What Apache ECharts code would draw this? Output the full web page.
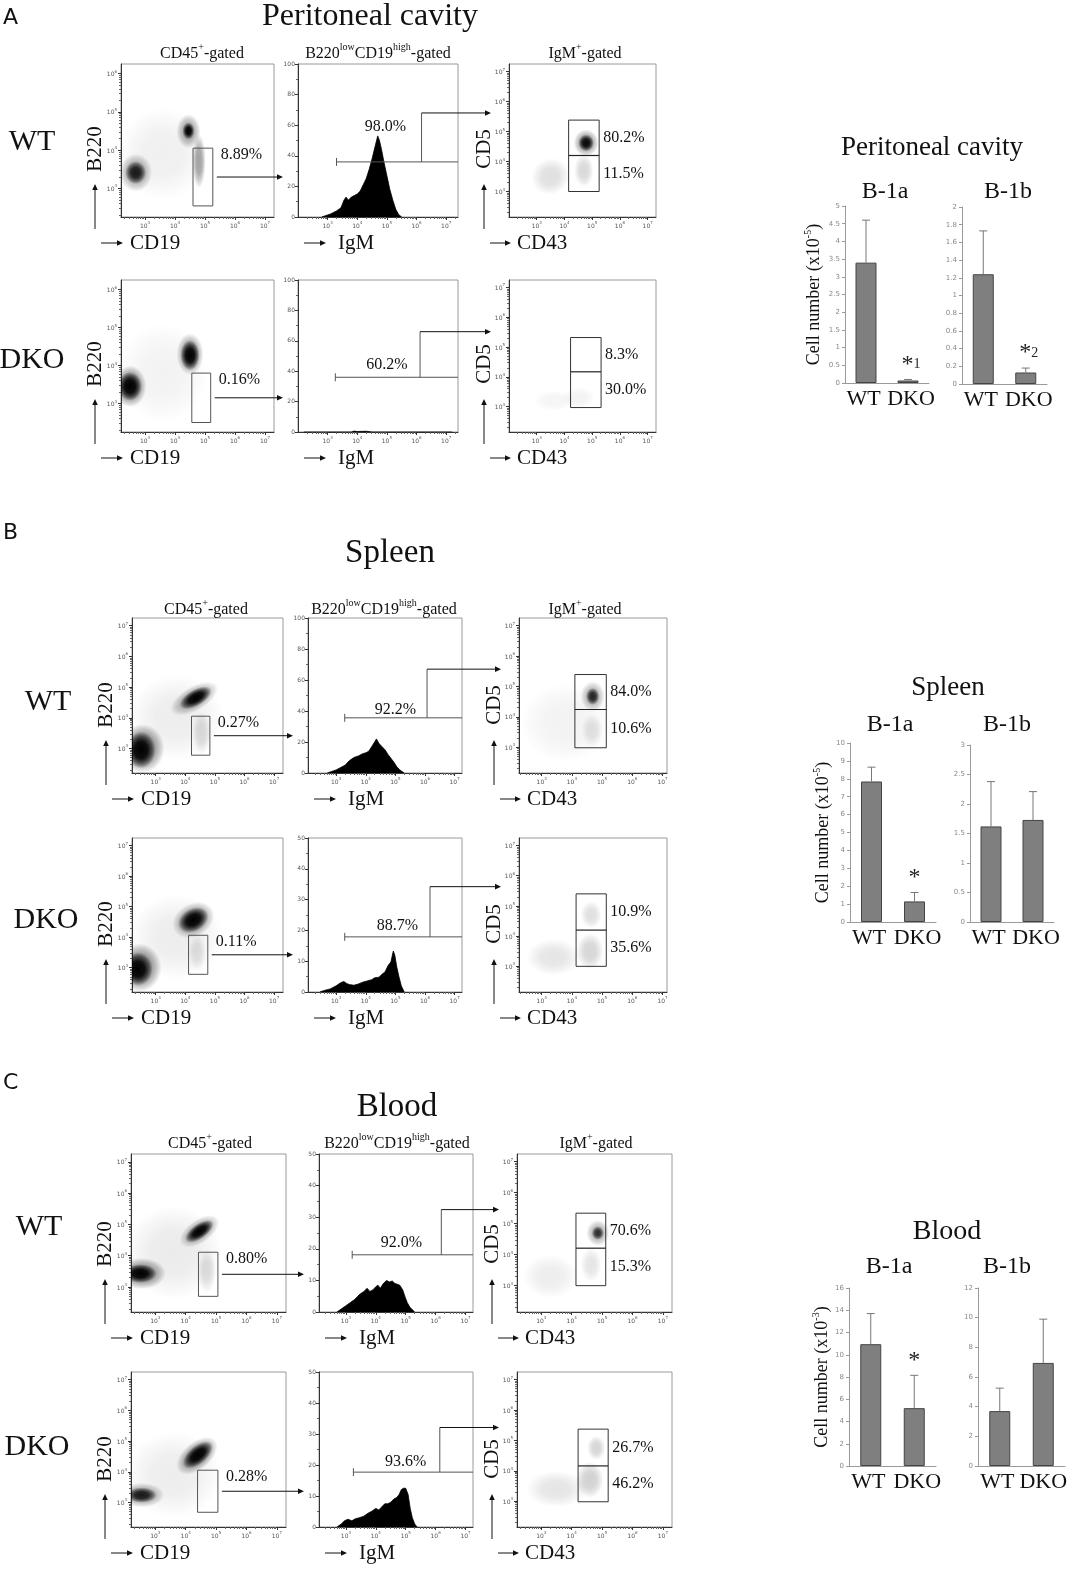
<!DOCTYPE html>
<html lang="en">
<head>
<meta charset="UTF-8">
<title>B-1 cells in DKO mice</title>
<script src="https://cdn.jsdelivr.net/npm/echarts@6/dist/echarts.min.js"></script>
<style>
    html, body { margin: 0; padding: 0; background: #fff; }
    #main { width: 1067px; height: 1569px; }
</style>
</head>
<body>
<div id="main"></div>
<script>
    // ---------- values (cytometry axes are in log10 units) ----------
    var sectionTitles = ['Peritoneal cavity', 'Spleen', 'Blood'];
    var sectionLetters = ['A', 'B', 'C'];
    var genotypes = ['WT', 'DKO'];
    var logTicks = [3, 4, 5, 6, 7];

    // B220 vs CD19 populations: [cd19, b220, spreadX, spreadY, angle, density]
    var pcWtCd19 = [[3.6, 3.9, 1.5, 1.2, 0, 0.06], [2.69, 3.41, 0.55, 0.5, 0, 0.35], [2.69, 3.41, 0.35, 0.3, 0, 0.85],
        [4.8, 3.7, 0.22, 0.7, 0, 0.35], [4.45, 4.49, 0.4, 0.45, 0, 0.35], [4.45, 4.5, 0.2, 0.22, 0, 1.0]];
    var pcKoCd19 = [[3.6, 3.8, 1.5, 1.3, 0, 0.05], [2.5, 3.45, 0.55, 0.55, 0, 0.5], [2.5, 3.45, 0.4, 0.38, 0, 1.0],
        [4.5, 4.3, 0.45, 0.55, 0, 0.4], [4.5, 4.27, 0.32, 0.4, 0, 1.0]];
    var spWtCd19 = [[3.7, 4.0, 1.6, 1.4, 0, 0.07], [4.55, 3.5, 0.3, 0.7, 0, 0.12], [2.55, 3.0, 0.75, 0.8, 0, 0.5],
        [2.5, 2.95, 0.5, 0.6, 0, 1.0], [4.3, 4.62, 0.9, 0.4, 30, 0.35], [4.35, 4.65, 0.6, 0.27, 30, 1.0]];
    var spKoCd19 = [[3.7, 4.0, 1.6, 1.4, 0, 0.07], [4.4, 3.5, 0.3, 0.6, 0, 0.1], [2.45, 3.0, 0.75, 0.8, 0, 0.5],
        [2.4, 2.95, 0.5, 0.55, 0, 1.0], [4.27, 4.56, 0.75, 0.55, 30, 0.4], [4.27, 4.56, 0.55, 0.38, 30, 1.0]];
    var bdWtCd19 = [[3.6, 4.1, 1.6, 1.5, 0, 0.08], [4.7, 3.5, 0.3, 0.7, 0, 0.12], [2.55, 3.43, 0.8, 0.5, 0, 0.45],
        [2.5, 3.43, 0.55, 0.3, 0, 1.0], [4.45, 4.78, 0.75, 0.38, 35, 0.35], [4.45, 4.78, 0.55, 0.24, 35, 1.0]];
    var bdKoCd19 = [[3.6, 3.9, 1.6, 1.4, 0, 0.07], [2.55, 3.24, 0.75, 0.4, 0, 0.35], [2.55, 3.24, 0.5, 0.25, 0, 0.85],
        [4.37, 4.52, 0.8, 0.45, 40, 0.45], [4.4, 4.55, 0.6, 0.3, 40, 1.0]];

    // CD5 vs CD43 populations: [cd43, cd5, spreadX, spreadY, angle, density]
    var pcWtCd43 = [[3.5, 3.5, 0.7, 0.6, 30, 0.12], [4.7, 3.7, 0.35, 0.55, 0, 0.15], [4.78, 4.62, 0.45, 0.45, 0, 0.4], [4.78, 4.62, 0.28, 0.28, 0, 0.95]];
    var pcKoCd43 = [[4.5, 3.3, 0.6, 0.35, 0, 0.05], [3.6, 3.2, 0.7, 0.35, 0, 0.04]];
    var spWtCd43 = [[3.8, 3.8, 1.5, 1.3, 0, 0.05], [4.67, 3.55, 0.35, 0.55, 0, 0.1], [4.69, 4.67, 0.4, 0.5, 0, 0.3], [4.69, 4.67, 0.22, 0.28, 0, 0.8]];
    var spKoCd43 = [[3.4, 3.3, 0.9, 0.6, 0, 0.1], [4.6, 3.5, 0.45, 0.6, 0, 0.16], [4.64, 4.71, 0.35, 0.45, 0, 0.12]];
    var bdWtCd43 = [[3.3, 3.3, 0.9, 0.7, 0, 0.07], [4.64, 3.67, 0.35, 0.55, 0, 0.1], [4.86, 4.7, 0.38, 0.42, 0, 0.3], [4.86, 4.7, 0.2, 0.22, 0, 0.75]];
    var bdKoCd43 = [[3.5, 3.4, 1.0, 0.6, 0, 0.1], [4.6, 3.7, 0.45, 0.6, 0, 0.18], [4.81, 4.75, 0.3, 0.4, 0, 0.16]];

    // IgM histograms: [log10 IgM, count]
    var pcWtIgm = [[2.8, 0], [2.95, 1], [3.1, 2], [3.3, 4], [3.45, 6], [3.55, 11], [3.62, 13], [3.7, 11], [3.8, 13], [3.9, 14],
        [4.0, 15], [4.1, 17], [4.2, 21], [4.3, 25], [4.4, 31], [4.5, 38], [4.6, 46], [4.69, 53], [4.75, 50], [4.82, 44],
        [4.9, 36], [5.0, 27], [5.1, 18], [5.2, 11], [5.3, 5], [5.4, 1.5], [5.5, 0]];
    var pcKoIgm = [[2.2, 0], [3.8, 0], [3.9, 0.6], [4.0, 0.3], [4.3, 0.5], [4.5, 0], [7.2, 0]];
    var spWtIgm = [[2.7, 0], [2.85, 1], [3.0, 2], [3.15, 3.5], [3.3, 5], [3.45, 8], [3.6, 10], [3.75, 11], [3.9, 12.5], [4.0, 13],
        [4.1, 14], [4.2, 17], [4.3, 20], [4.36, 22], [4.45, 19], [4.55, 17], [4.65, 15], [4.75, 12], [4.85, 9.5], [4.95, 7],
        [5.05, 4], [5.15, 2], [5.3, 0]];
    var spKoIgm = [[2.45, 0], [2.6, 0.5], [2.8, 1], [3.0, 2], [3.15, 3], [3.26, 3.4], [3.35, 2.8], [3.45, 2.4], [3.6, 2.2], [3.75, 2.6],
        [3.9, 3.2], [4.05, 3.6], [4.2, 4], [4.3, 4.6], [4.45, 4.8], [4.55, 5.8], [4.65, 6.5], [4.75, 8.5], [4.85, 9.8], [4.93, 13.3],
        [4.98, 12], [5.05, 8], [5.12, 5], [5.2, 2], [5.3, 0]];
    var bdWtIgm = [[2.7, 0], [2.85, 1], [3.0, 2], [3.15, 3], [3.3, 4], [3.45, 5.5], [3.6, 6.5], [3.71, 7.5], [3.8, 6.5], [3.9, 7],
        [4.0, 8], [4.07, 8.5], [4.15, 7.5], [4.25, 9], [4.36, 10], [4.45, 9.5], [4.55, 9.8], [4.64, 9], [4.72, 8.8], [4.8, 8.5],
        [4.9, 7], [4.97, 5], [5.05, 3], [5.14, 1.5], [5.3, 0]];
    var bdKoIgm = [[2.7, 0], [2.85, 1], [2.95, 2], [3.07, 2.5], [3.2, 2], [3.3, 2.6], [3.45, 3], [3.6, 3.5], [3.75, 4.5], [3.85, 5],
        [4.0, 6], [4.1, 5.5], [4.2, 6.5], [4.3, 7.5], [4.4, 7.5], [4.5, 8], [4.6, 9], [4.7, 9.5], [4.78, 10.5], [4.85, 12],
        [4.92, 12.5], [5.0, 12.5], [5.08, 10.5], [5.15, 6], [5.22, 3], [5.3, 1], [5.38, 0]];
    var histMax = [100, 100, 100, 50, 50, 50];

    // gates, in plot order pcWT, pcDKO, spWT, spDKO, bdWT, bdDKO
    var cd19Gates = [[4.6, 5.26, 2.54, 4.05], [4.56, 5.19, 2.5, 3.8], [4.21, 4.83, 2.78, 4.05],
        [4.11, 4.76, 2.78, 4.06], [4.42, 5.06, 2.7, 4.11], [4.39, 5.06, 2.68, 4.05]];
    var cd19Pct = ['8.89%', '0.16%', '0.27%', '0.11%', '0.80%', '0.28%'];
    var igmGates = [[3.3, 36, 6.17, 68], [3.26, 36, 6.12, 66], [3.29, 35.6, 6.07, 67],
        [3.29, 17.9, 6.17, 34.2], [3.21, 18.1, 6.19, 32.4], [3.25, 17.7, 6.14, 32.1]];
    var igmPct = ['98.0%', '60.2%', '92.2%', '88.7%', '92.0%', '93.6%'];
    var igmPctAt = [[4.95, 59], [5.0, 44], [5.0, 41], [5.07, 21.4], [4.86, 21.8], [5.0, 20.9]];
    var cd5Gates = [[4.15, 5.25, 3.0, 4.2, 5.38], [4.22, 5.32, 2.97, 4.17, 5.32], [4.1, 5.14, 2.98, 4.24, 5.39],
        [4.14, 5.14, 3.0, 4.2, 5.4], [4.14, 5.12, 3.0, 4.21, 5.34], [4.21, 5.2, 2.98, 4.16, 5.37]];
    var cd5HiPct = ['80.2%', '8.3%', '84.0%', '10.9%', '70.6%', '26.7%'];
    var cd5LoPct = ['11.5%', '30.0%', '10.6%', '35.6%', '15.3%', '46.2%'];

    // cell numbers (bar = mean, top = upper end of the error bar)
    var barCats = ['WT', 'DKO'];
    var pcB1a = [3.4, 0.07], pcB1aTop = [4.6, 0.1];
    var pcB1b = [1.24, 0.13], pcB1bTop = [1.73, 0.18];
    var spB1a = [7.85, 1.15], spB1aTop = [8.65, 1.65];
    var spB1b = [1.62, 1.73], spB1bTop = [2.38, 2.21];
    var bdB1a = [10.95, 5.2], bdB1aTop = [13.7, 8.15];
    var bdB1b = [3.7, 6.95], bdB1bTop = [5.25, 9.9];
    var sigMarks = [['', '*1'], ['', '*2'], ['', '*'], ['', ''], ['', '*'], ['', '']];
    var barTicks = [[5, 0.5], [2, 0.2], [10, 1], [3, 0.5], [16, 2], [12, 2]];
    var cellExp = ['-5', '-5', '-3'];

    // ---------- layout ----------
    var SERIF = '"Liberation Serif", "Times New Roman", serif';
    var SANS = '"DejaVu Sans", Arial, sans-serif';
    var rowsY = [[64, 217], [280, 432], [618, 773], [838, 992], [1154, 1312], [1372, 1527]];
    var colsX = [
        [[121, 274], [298, 458], [509, 656]],
        [[132, 283], [308, 462], [519, 667]],
        [[131, 286], [319, 473], [517, 672]]
    ];
    var b220Range = [[2.25, 6.25], [2.25, 6.25], [2.2, 7.25], [2.2, 7.25], [2.2, 7.25], [2.2, 7.25]];
    var cd19Range = [2.2, 7.3];
    var igmRange = [[2.0, 7.4], [2.05, 7.25], [2.1, 7.25]];
    var cd43Range = [[2.0, 7.3], [2.25, 7.15], [2.2, 7.3]];
    var cd5Range = [2.15, 7.25];
    var titleY = [17, 553, 1107], titleX = [370, 390, 397], titleSize = [32, 33, 33];
    var letterY = [18, 533, 1083];
    var subY = [52, 608, 1142];
    var subX = [[202, 378, 585], [206, 384, 585], [210, 397, 596]];
    var genoPos = [[32, 142], [32, 360], [48, 702], [46, 920], [39, 1227], [37, 1447]];
    var barBoxes = [[845, 929, 206, 383], [962, 1047, 207, 384], [850, 936, 743, 922], [970, 1054, 745, 922],
        [849, 936, 1288, 1466], [978, 1065, 1288, 1466]];
    var dkoShift = [6, 6, 6, 6, 6, 0];
    var barNameGap = [22, 11, 13];
    var barTitles = [[932, 148, 27], [948, 688, 27], [947, 1232, 28]];
    var barSubY = [192, 725, 1267];
    var barSubX = [[885, 1008], [890, 1007], [889, 1007]];

    var cd19Plots = [pcWtCd19, pcKoCd19, spWtCd19, spKoCd19, bdWtCd19, bdKoCd19];
    var cd43Plots = [pcWtCd43, pcKoCd43, spWtCd43, spKoCd43, bdWtCd43, bdKoCd43];
    var igmPlots = [pcWtIgm, pcKoIgm, spWtIgm, spKoIgm, bdWtIgm, bdKoIgm];
    var barMeans = [pcB1a, pcB1b, spB1a, spB1b, bdB1a, bdB1b];
    var barTops = [pcB1aTop, pcB1bTop, spB1aTop, spB1bTop, bdB1aTop, bdB1bTop];

    var grid = [], xAxis = [], yAxis = [], series = [], graphic = [];

    function addGrid(x0, x1, y0, y1, border) {
        grid.push({
            left: x0, top: y0, width: x1 - x0, height: y1 - y0, show: true,
            borderColor: border || '#9a9a9a', borderWidth: 1, backgroundColor: 'transparent',
            containLabel: false, outerBoundsMode: 'none'
        });
        return grid.length - 1;
    }

    function minorLogValues(range) {
        var out = [];
        for (var d = Math.floor(range[0]); d <= Math.floor(range[1]); d++) {
            for (var k = 2; k <= 9; k++) {
                var v = d + Math.log10(k);
                if (v > range[0] && v < range[1]) out.push(v);
            }
        }
        return out;
    }

    var tickRich = {
        b: { fontSize: 6, color: '#555', fontFamily: SANS, verticalAlign: 'bottom', lineHeight: 8 },
        s: { fontSize: 4, color: '#555', fontFamily: SANS, verticalAlign: 'top', lineHeight: 8 }
    };

    // log axis = labelled decades + a second, bare axis carrying the minor ticks
    function addLogAxis(list, gi, range, dim) {
        var majors = logTicks.filter(function (v) { return v >= range[0] && v <= range[1]; });
        var pos = dim === 'x' ? 'bottom' : 'left';
        list.push({
            type: 'value', gridIndex: gi, min: range[0], max: range[1], position: pos,
            splitLine: { show: false },
            axisLine: { show: true, onZero: false, lineStyle: { color: '#333', width: 1 } },
            axisTick: { show: true, length: 3, customValues: majors, lineStyle: { color: '#333' } },
            axisLabel: {
                show: true, customValues: majors, margin: 4, rich: tickRich,
                formatter: function (v) { return '{b|10}{s|' + Math.round(v) + '}'; }
            }
        });
        var main = list.length - 1;
        list.push({
            type: 'value', gridIndex: gi, min: range[0], max: range[1], position: pos,
            splitLine: { show: false }, axisLine: { show: false, onZero: false }, axisLabel: { show: false },
            axisTick: { show: true, length: 2, customValues: minorLogValues(range), lineStyle: { color: '#666' } }
        });
        return main;
    }

    function arrowEls(x1, y1, x2, y2, color) {
        color = color || '#111';
        var ang = Math.atan2(y2 - y1, x2 - x1), L = 6, W = 2.8;
        var bx = x2 - L * Math.cos(ang), by = y2 - L * Math.sin(ang);
        var px = -Math.sin(ang) * W, py = Math.cos(ang) * W;
        return [
            { type: 'line', silent: true, z: 10, shape: { x1: x1, y1: y1, x2: bx, y2: by }, style: { stroke: color, lineWidth: 1 } },
            { type: 'polygon', silent: true, z: 10, shape: { points: [[x2, y2], [bx + px, by + py], [bx - px, by - py]] }, style: { fill: color } }
        ];
    }

    function addText(x, y, text, size, o) {
        o = o || {};
        var st = {
            text: text, fill: o.color || '#111', fontSize: size, fontFamily: o.family || SERIF,
            align: o.align || 'center', verticalAlign: o.va || 'middle'
        };
        if (o.rich) st.rich = o.rich;
        graphic.push({ type: 'text', x: x, y: y, rotation: o.rot || 0, silent: true, z: 10, style: st });
    }

    function addArrow(x1, y1, x2, y2) {
        arrowEls(x1, y1, x2, y2).forEach(function (e) { graphic.push(e); });
    }

    function cloudSeries(xi, yi, data) {
        return {
            type: 'custom', xAxisIndex: xi, yAxisIndex: yi, clip: true, silent: true, z: 2, data: data,
            renderItem: function (params, api) {
                var c = api.coord([api.value(0), api.value(1)]);
                var r = api.size([api.value(2), api.value(3)]);
                var a = api.value(5);
                return {
                    type: 'circle', x: c[0], y: c[1], rotation: api.value(4) * Math.PI / 180,
                    scaleX: Math.abs(r[0]), scaleY: Math.abs(r[1]), shape: { cx: 0, cy: 0, r: 1 },
                    style: {
                        fill: {
                            type: 'radial', x: 0.5, y: 0.5, r: 0.5, colorStops: [
                                { offset: 0, color: 'rgba(0,0,0,' + a + ')' },
                                { offset: 0.45, color: 'rgba(0,0,0,' + (a * 0.9) + ')' },
                                { offset: 0.75, color: 'rgba(0,0,0,' + (a * 0.45) + ')' },
                                { offset: 1, color: 'rgba(0,0,0,0)' }
                            ]
                        }
                    }
                };
            }
        };
    }

    function pctText(x, y, text, align) {
        return { type: 'text', x: x, y: y, silent: true, style: { text: text, fill: '#111', fontSize: 16, fontFamily: SERIF, align: align || 'left', verticalAlign: 'middle' } };
    }

    function cd19GateRender(pct, targetX) {
        return function (params, api) {
            var p1 = api.coord([api.value(0), api.value(3)]);
            var p2 = api.coord([api.value(1), api.value(2)]);
            var midY = (p1[1] + p2[1]) / 2;
            var kids = [
                { type: 'rect', shape: { x: p1[0], y: p1[1], width: p2[0] - p1[0], height: p2[1] - p1[1] }, style: { fill: null, stroke: '#555', lineWidth: 1 } },
                pctText(p2[0] + 8, p1[1] + 7, pct)
            ].concat(arrowEls(p2[0] + 4, midY, targetX, midY));
            return { type: 'group', children: kids };
        };
    }

    function igmGateRender(pct, at, targetX) {
        return function (params, api) {
            var a = api.coord([api.value(0), api.value(1)]);
            var v2 = api.coord([api.value(2), api.value(3)]);
            var right = params.coordSys.x + params.coordSys.width;
            var lab = api.coord(at);
            var ln = { stroke: '#555', lineWidth: 1 };
            var kids = [
                { type: 'line', shape: { x1: a[0], y1: a[1], x2: right, y2: a[1] }, style: ln },
                { type: 'line', shape: { x1: a[0], y1: a[1] - 4, x2: a[0], y2: a[1] + 4 }, style: ln },
                { type: 'line', shape: { x1: v2[0], y1: a[1], x2: v2[0], y2: v2[1] }, style: ln },
                pctText(lab[0], lab[1], pct, 'center')
            ].concat(arrowEls(v2[0], v2[1], targetX, v2[1]));
            return { type: 'group', children: kids };
        };
    }

    function cd5GateRender(hi, lo) {
        return function (params, api) {
            var x1 = api.coord([api.value(0), api.value(4)]);
            var x2 = api.coord([api.value(1), api.value(2)]);
            var mid = api.coord([api.value(0), api.value(3)])[1];
            return {
                type: 'group', children: [
                    { type: 'rect', shape: { x: x1[0], y: x1[1], width: x2[0] - x1[0], height: x2[1] - x1[1] }, style: { fill: null, stroke: '#333', lineWidth: 1 } },
                    { type: 'line', shape: { x1: x1[0], y1: mid, x2: x2[0], y2: mid }, style: { stroke: '#222', lineWidth: 1.2 } },
                    pctText(x2[0] + 4, (x1[1] + mid) / 2, hi),
                    pctText(x2[0] + 4, (mid + x2[1]) / 2, lo)
                ]
            };
        };
    }

    var subRich = {
        n: { fontSize: 16, fontFamily: SERIF, fill: '#111', lineHeight: 19, verticalAlign: 'bottom' },
        s: { fontSize: 10, fontFamily: SERIF, fill: '#111', lineHeight: 19, verticalAlign: 'top' }
    };
    var subTexts = ['{n|CD45}{s|+}{n|-gated}', '{n|B220}{s|low}{n|CD19}{s|high}{n|-gated}', '{n|IgM}{s|+}{n|-gated}'];

    // ---------- cytometry panels ----------
    for (var sec = 0; sec < 3; sec++) {
        addText(3, letterY[sec], sectionLetters[sec], 22, { family: SANS, align: 'left' });
        addText(titleX[sec], titleY[sec], sectionTitles[sec], titleSize[sec]);
        for (var c = 0; c < 3; c++) {
            addText(subX[sec][c], subY[sec], subTexts[c], 16, { rich: subRich });
        }
    }

    for (var p = 0; p < 6; p++) {
        var s = Math.floor(p / 2), ry = rowsY[p], cx = colsX[s];
        addText(genoPos[p][0], genoPos[p][1], genotypes[p % 2], 30);

        // B220 vs CD19
        var g1 = addGrid(cx[0][0], cx[0][1], ry[0], ry[1]);
        var x1 = addLogAxis(xAxis, g1, cd19Range, 'x');
        var y1 = addLogAxis(yAxis, g1, b220Range[p], 'y');
        series.push(cloudSeries(x1, y1, cd19Plots[p]));
        series.push({
            type: 'custom', xAxisIndex: x1, yAxisIndex: y1, clip: false, silent: true, z: 5,
            data: [cd19Gates[p]], renderItem: cd19GateRender(cd19Pct[p], cx[1][0] - 15)
        });

        // IgM histogram
        var g2 = addGrid(cx[1][0], cx[1][1], ry[0], ry[1]);
        var x2 = addLogAxis(xAxis, g2, igmRange[s], 'x');
        yAxis.push({
            type: 'value', gridIndex: g2, min: 0, max: histMax[p], interval: histMax[p] / 5, position: 'left',
            splitLine: { show: false },
            axisLine: { show: true, onZero: false, lineStyle: { color: '#333' } },
            axisTick: { show: true, length: 3, lineStyle: { color: '#333' } },
            minorTick: { show: true, splitNumber: 2, length: 2, lineStyle: { color: '#666' } },
            axisLabel: { fontSize: 6, color: '#555', margin: 3, fontFamily: SANS }
        });
        var y2 = yAxis.length - 1;
        series.push({
            type: 'line', xAxisIndex: x2, yAxisIndex: y2, data: igmPlots[p], symbol: 'none', showSymbol: false,
            silent: true, z: 3, lineStyle: { color: '#000', width: 0.8 }, areaStyle: { color: '#000', opacity: 1 }
        });
        series.push({
            type: 'custom', xAxisIndex: x2, yAxisIndex: y2, clip: false, silent: true, z: 5,
            data: [igmGates[p]], renderItem: igmGateRender(igmPct[p], igmPctAt[p], cx[2][0] - 18)
        });

        // CD5 vs CD43
        var g3 = addGrid(cx[2][0], cx[2][1], ry[0], ry[1]);
        var x3 = addLogAxis(xAxis, g3, cd43Range[s], 'x');
        var y3 = addLogAxis(yAxis, g3, cd5Range, 'y');
        series.push(cloudSeries(x3, y3, cd43Plots[p]));
        series.push({
            type: 'custom', xAxisIndex: x3, yAxisIndex: y3, clip: false, silent: true, z: 5,
            data: [cd5Gates[p]], renderItem: cd5GateRender(cd5HiPct[p], cd5LoPct[p])
        });

        // axis names with their little arrows
        var yb = ry[1];
        var vx1 = cx[0][0] - 26, vx3 = cx[2][0] - 25;
        addText(vx1, yb - 68, 'B220', 21, { rot: Math.PI / 2 });
        addArrow(vx1, yb + 12, vx1, yb - 33);
        addText(vx3, yb - 68, 'CD5', 21, { rot: Math.PI / 2 });
        addArrow(vx3, yb + 12, vx3, yb - 33);
        addArrow(cx[0][0] - 20, yb + 26, cx[0][0] + 2, yb + 26);
        addText(cx[0][0] + 9, yb + 26, 'CD19', 21, { align: 'left' });
        addArrow(cx[1][0] + 6, yb + 26, cx[1][0] + 28, yb + 26);
        addText(cx[1][0] + 40, yb + 26, 'IgM', 21, { align: 'left' });
        addArrow(cx[2][0] - 19, yb + 26, cx[2][0] + 2, yb + 26);
        addText(cx[2][0] + 8, yb + 26, 'CD43', 21, { align: 'left' });
    }

    // ---------- cell-number bar charts ----------
    function errRender(sig) {
        return function (params, api) {
            var i = params.dataIndex;
            var b = api.coord([api.value(0), api.value(1)]);
            var t = api.coord([api.value(0), api.value(2)]);
            var st = { stroke: '#777', lineWidth: 1 };
            var kids = [
                { type: 'line', shape: { x1: b[0], y1: b[1], x2: t[0], y2: t[1] }, style: st },
                { type: 'line', shape: { x1: t[0] - 4, y1: t[1], x2: t[0] + 4, y2: t[1] }, style: st }
            ];
            if (sig[i]) {
                var txt = '{a|*}' + (sig[i].length > 1 ? '{n|' + sig[i].slice(1) + '}' : '');
                kids.push({
                    type: 'text', x: t[0] + (sig[i].length > 1 ? 3 : 0), y: t[1] - 15, silent: true,
                    style: {
                        text: txt, align: 'center', verticalAlign: 'middle',
                        rich: {
                            a: { fontSize: 24, fontFamily: SERIF, fill: '#222', lineHeight: 20 },
                            n: { fontSize: 14, fontFamily: SERIF, fill: '#222', lineHeight: 20 }
                        }
                    }
                });
            }
            return { type: 'group', children: kids };
        };
    }

    function catRich(shift) {
        return {
            w: { fontSize: 22, fontFamily: SERIF, color: '#111', padding: [0, 5, 0, 0] },
            d: { fontSize: 22, fontFamily: SERIF, color: '#111', padding: [0, 0, 0, shift] }
        };
    }

    for (var k = 0; k < 6; k++) {
        var sb = Math.floor(k / 2), bb = barBoxes[k];
        var gb = addGrid(bb[0], bb[1], bb[2], bb[3], 'transparent');
        grid[gb].show = false;
        xAxis.push({
            type: 'category', gridIndex: gb, data: barCats,
            axisLine: { show: true, lineStyle: { color: '#9a9a9a' } }, axisTick: { show: false },
            axisLabel: {
                interval: 0, margin: 5, rich: catRich(dkoShift[k]), hideOverlap: false,
                formatter: function (v, i) { return i === 0 ? '{w|' + v + '}' : '{d|' + v + '}'; }
            }
        });
        var yax = {
            type: 'value', gridIndex: gb, min: 0, max: barTicks[k][0], interval: barTicks[k][1],
            splitLine: { show: false },
            axisLine: { show: true, lineStyle: { color: '#9a9a9a' } },
            axisTick: { show: true, length: 3, lineStyle: { color: '#9a9a9a' } },
            axisLabel: { fontSize: 7, color: '#888', margin: 5, fontFamily: SANS }
        };
        if (k % 2 === 0) {
            yax.name = '{n|Cell number (x10}{s|' + cellExp[sb] + '}{n|)}';
            yax.nameLocation = 'middle';
            yax.nameRotate = 90;
            yax.nameGap = barNameGap[sb];
            yax.nameTextStyle = {
                rich: {
                    n: { fontSize: 18, fontFamily: SERIF, color: '#111', lineHeight: 20, verticalAlign: 'bottom' },
                    s: { fontSize: 10, fontFamily: SERIF, color: '#111', lineHeight: 20, verticalAlign: 'top' }
                }
            };
        }
        yAxis.push(yax);
        var bxi = xAxis.length - 1, byi = yAxis.length - 1;
        series.push({
            type: 'bar', xAxisIndex: bxi, yAxisIndex: byi, data: barMeans[k], barWidth: 21, silent: true,
            itemStyle: { color: '#7f7f7f', borderColor: '#444', borderWidth: 1 }
        });
        series.push({
            type: 'custom', xAxisIndex: bxi, yAxisIndex: byi, clip: false, silent: true, z: 4,
            data: barMeans[k].map(function (m, i) { return [i, m, barTops[k][i]]; }),
            renderItem: errRender(sigMarks[k])
        });
        addText(barSubX[sb][k % 2], barSubY[sb], k % 2 === 0 ? 'B-1a' : 'B-1b', 24);
    }
    for (var t = 0; t < 3; t++) {
        addText(barTitles[t][0], barTitles[t][1], sectionTitles[t], barTitles[t][2]);
    }

    var chart = echarts.init(document.getElementById('main'), null, { renderer: 'canvas' });
    chart.setOption({
        animation: false,
        backgroundColor: '#ffffff',
        grid: grid,
        xAxis: xAxis,
        yAxis: yAxis,
        series: series,
        graphic: graphic
    });
</script>
</body>
</html>
